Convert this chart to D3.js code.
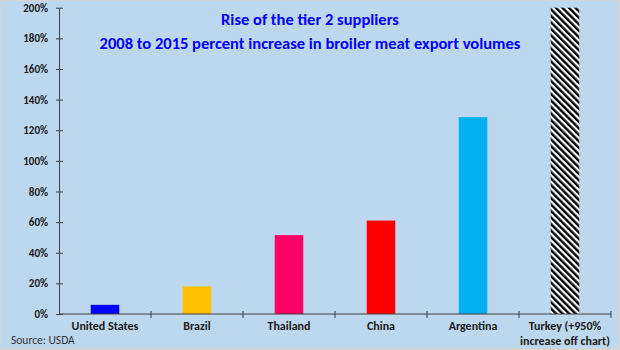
<!DOCTYPE html>
<html>
<head>
<meta charset="utf-8">
<script src="https://cdn.jsdelivr.net/npm/d3@7"></script>
<style>
  html, body { margin: 0; padding: 0; background: #fff; }
  svg { display: block; font-family: Carlito, Lato, "Open Sans", sans-serif; }
</style>
</head>
<body>
<svg id="chart" width="620" height="350"></svg>
<script>
// Percent increase in broiler meat export volumes, 2008 to 2015
const categories = ["United States", "Brazil", "Thailand", "China", "Argentina", "Turkey (+950% increase off chart)"];
const labelLines = [["United States"], ["Brazil"], ["Thailand"], ["China"], ["Argentina"], ["Turkey (+950%", "increase off chart)"]];
const values = [6, 18, 51.5, 61, 128.5, 950];
const colors = ["#0000ff", "#ffc000", "#ff0066", "#ff0000", "#00b0f0", "url(#hatch)"];
const yTicks = [0, 20, 40, 60, 80, 100, 120, 140, 160, 180, 200];
const titleLines = ["Rise of the tier 2 suppliers", "2008 to 2015 percent increase in broiler meat export volumes"];
const source = "Source: USDA";
const yMax = 200;

const svg = d3.select("#chart");
const W = 620, H = 350;

// background panel with a thin grey frame
svg.append("rect").attr("x", 0).attr("y", 0).attr("width", W).attr("height", H).attr("fill", "#d4d4d4");
svg.append("rect").attr("x", 1).attr("y", 1).attr("width", W - 3).attr("height", H - 3).attr("fill", "#bdd7ee");

// diagonal hatch for the off-scale bar
const defs = svg.append("defs");
const pat = defs.append("pattern")
  .attr("id", "hatch").attr("patternUnits", "userSpaceOnUse")
  .attr("width", 4.6).attr("height", 4.6)
  .attr("patternTransform", "rotate(-45)");
pat.append("rect").attr("width", 4.6).attr("height", 4.6).attr("fill", "#fff");
pat.append("rect").attr("width", 2.4).attr("height", 4.6).attr("fill", "#000");

const x = d3.scaleBand().domain(categories).range([59, 611]).paddingInner(0.69).paddingOuter(0.345);
const xTickScale = d3.scaleBand().domain(categories).range([59, 611]);
const y = d3.scaleLinear().domain([0, yMax]).range([314, 7.7]);

// bars (values beyond the axis are clipped at the top)
svg.append("g").selectAll("rect").data(values).join("rect")
  .attr("x", (d, i) => x(categories[i]))
  .attr("width", x.bandwidth())
  .attr("y", d => y(Math.min(d, yMax)))
  .attr("height", d => y(0) - y(Math.min(d, yMax)))
  .attr("fill", (d, i) => colors[i]);

// y axis
const yAxis = svg.append("g").attr("transform", "translate(59,0)")
  .call(d3.axisLeft(y).tickValues(yTicks).tickFormat(d => d + "%").tickSize(0).tickPadding(11));
yAxis.select(".domain").attr("stroke", "#404040").attr("stroke-width", 1);
yAxis.selectAll(".tick text").attr("font-size", 11).attr("font-weight", "bold").attr("fill", "#1a1a1a")
  .attr("font-family", "Carlito, Lato, sans-serif");
yAxis.selectAll(".tick").append("line").attr("x1", -3).attr("x2", 4).attr("stroke", "#404040");

// x axis
const xAxis = svg.append("g").attr("transform", "translate(0,314)");
xAxis.append("line").attr("x1", 59).attr("x2", 611).attr("stroke", "#404040");
const bounds = categories.map(c => xTickScale(c)).concat([xTickScale.range()[1]]);
xAxis.selectAll("line.tk").data(bounds.slice(1)).join("line").attr("class", "tk")
  .attr("x1", d => d).attr("x2", d => d).attr("y1", -3).attr("y2", 4).attr("stroke", "#404040");

const lab = svg.append("g").selectAll("text").data(labelLines).join("text")
  .attr("x", (d, i) => x(categories[i]) + x.bandwidth() / 2)
  .attr("y", 330)
  .attr("text-anchor", "middle")
  .attr("font-size", 12).attr("font-weight", "bold").attr("fill", "#1a1a1a");
lab.selectAll("tspan").data(d => d).join("tspan")
  .attr("x", function () { return this.parentNode.getAttribute("x"); })
  .attr("dy", (d, i) => i === 0 ? 0 : 15)
  .text(d => d);

// title
svg.append("g").selectAll("text").data(titleLines).join("text")
  .attr("x", 310).attr("y", (d, i) => 25 + i * 24)
  .attr("text-anchor", "middle")
  .attr("font-size", 16.5).attr("font-weight", "bold").attr("fill", "#0000ff")
  .text(d => d);

// source note
svg.append("text").attr("x", 11).attr("y", 344)
  .attr("font-size", 11.5).attr("fill", "#333").text(source);
</script>
</body>
</html>
